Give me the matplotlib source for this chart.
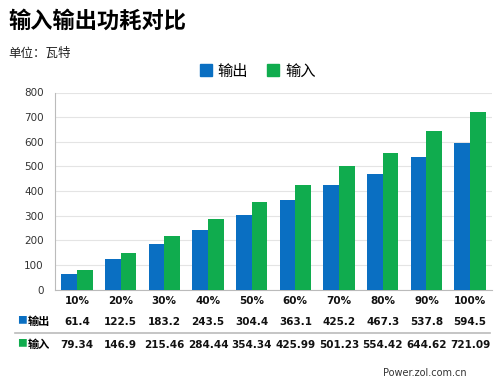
import numpy as np
import matplotlib
matplotlib.use("Agg")
import matplotlib.pyplot as plt
from matplotlib.patches import Patch
from matplotlib.transforms import blended_transform_factory

plt.rcParams['font.family'] = ['Noto Sans CJK SC', 'DejaVu Sans']

# Data
categories = ['10%', '20%', '30%', '40%', '50%', '60%', '70%', '80%', '90%', '100%']
output_w = [61.4, 122.5, 183.2, 243.5, 304.4, 363.1, 425.2, 467.3, 537.8, 594.5]
input_w = [79.34, 146.9, 215.46, 284.44, 354.34, 425.99, 501.23, 554.42, 644.62, 721.09]
output_lbl = ['61.4', '122.5', '183.2', '243.5', '304.4', '363.1', '425.2', '467.3', '537.8', '594.5']
input_lbl = ['79.34', '146.9', '215.46', '284.44', '354.34', '425.99', '501.23', '554.42', '644.62', '721.09']
y_ticks = [0, 100, 200, 300, 400, 500, 600, 700, 800]

blue = '#0A6FC2'
green = '#10AC4E'
H = 383.0

fig = plt.figure(figsize=(5, 3.83), dpi=100)
ax = fig.add_axes([0.11, 1 - 289.5 / H, 0.874, (289.5 - 92.5) / H])

x = np.arange(len(categories))
w = 0.36
ax.bar(x - w / 2, output_w, w, color=blue, zorder=3)
ax.bar(x + w / 2, input_w, w, color=green, zorder=3)

ax.set_xlim(-0.5, len(categories) - 0.5)
ax.set_ylim(0, 800)
ax.set_yticks(y_ticks)
ax.set_yticklabels([str(v) for v in y_ticks], fontsize=7.5, color='#333333', family='DejaVu Sans')
ax.set_xticks([])
ax.tick_params(axis='y', length=0, pad=8)
ax.grid(axis='y', color='#E4E4E4', linewidth=0.8, zorder=0)
for s in ['top', 'right']:
    ax.spines[s].set_visible(False)
ax.spines['left'].set_color('#BBBBBB')
ax.spines['bottom'].set_color('#BBBBBB')

# Titles
fig.text(8 / 500, 1 - 21 / H, '输入输出功耗对比', fontsize=16, fontweight='heavy', va='center', ha='left')
fig.text(8 / 500, 1 - 53 / H, '单位：瓦特', fontsize=9, style='italic', va='center', ha='left', color='#222222')

# Legend
handles = [Patch(color=blue, label='输出'), Patch(color=green, label='输入')]
fig.legend(handles=handles, loc='center', bbox_to_anchor=(0.515, 1 - 71 / H), ncol=2, frameon=False,
           fontsize=11, handlelength=0.8, handleheight=0.8, handletextpad=0.4, columnspacing=1.2)

# Data table under the chart
tr = blended_transform_factory(ax.transData, fig.transFigure)
for i in range(len(categories)):
    fig.text(x[i], 1 - 301 / H, categories[i], transform=tr, ha='center', va='center',
             fontsize=7.5, fontweight='bold', family='DejaVu Sans', color='#111111')
    fig.text(x[i], 1 - 322 / H, output_lbl[i], transform=tr, ha='center', va='center',
             fontsize=7.5, fontweight='bold', family='DejaVu Sans', color='#111111')
    fig.text(x[i], 1 - 345 / H, input_lbl[i], transform=tr, ha='center', va='center',
             fontsize=7.5, fontweight='bold', family='DejaVu Sans', color='#111111')

fig.text(22 / 500, 1 - 320 / H, '■', color=blue, fontsize=7, ha='center', va='center')
fig.text(28 / 500, 1 - 321 / H, '输出', fontsize=8, fontweight='bold', ha='left', va='center')
fig.text(22 / 500, 1 - 343 / H, '■', color=green, fontsize=7, ha='center', va='center')
fig.text(28 / 500, 1 - 344 / H, '输入', fontsize=8, fontweight='bold', ha='left', va='center')

fig.add_artist(plt.Line2D([15 / 500, 490 / 500], [1 - 333 / H, 1 - 333 / H],
                          color='#BBBBBB', linewidth=1.2))

fig.text(467 / 500, 1 - 373 / H, 'Power.zol.com.cn', fontsize=7, ha='right', va='center',
         family='DejaVu Sans', color='#333333')

fig.savefig('out.png', dpi=100)
